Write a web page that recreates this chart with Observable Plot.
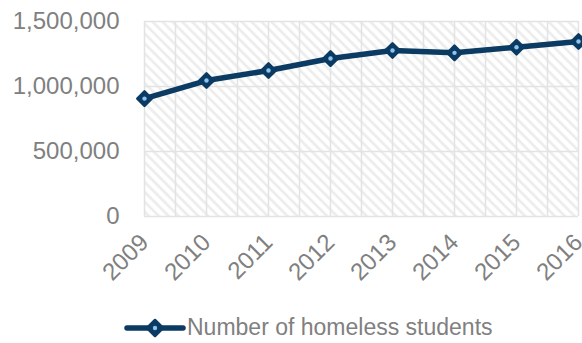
<!DOCTYPE html>
<html><head><meta charset="utf-8">
<script src="https://cdn.jsdelivr.net/npm/d3@7"></script>
<script src="https://cdn.jsdelivr.net/npm/@observablehq/plot@0.6"></script>
<style>
body{margin:0;background:#fff;font-family:"Liberation Sans",Arial,sans-serif;}
#wrap{position:relative;width:582px;height:343px;}
#legend{position:absolute;left:124px;top:314px;display:flex;align-items:center;color:#808080;font-size:23px;}
</style></head>
<body><div id="wrap"><div id="chart"></div><div id="legend"></div></div>
<script>
const years = [2009, 2010, 2011, 2012, 2013, 2014, 2015, 2016];
const students = [907000, 1046000, 1123000, 1215000, 1277000, 1259000, 1302000, 1346000];
const yTicks = [0, 500000, 1000000, 1500000];
const seriesName = "Number of homeless students";

const data = years.map((y, i) => ({year: y, value: students[i]}));
const halfYears = d3.range(years[0], years[years.length - 1] + 0.01, 0.5);
const navy = "#0b3a63";
const dot = "#8cc4f2";
const gridC = "#e3e3e3";

const plot = Plot.plot({
  width: 582, height: 300,
  marginLeft: 144, marginRight: 4, marginTop: 21, marginBottom: 84,
  style: {fontFamily: "Liberation Sans, Arial, sans-serif", fontSize: "24px", color: "#808080", background: "white"},
  x: {domain: [2009, 2016], ticks: years, tickFormat: d => String(d), tickRotate: -45, tickSize: 0, tickPadding: 22, label: null},
  y: {domain: [0, 1500000], ticks: yTicks, tickFormat: d3.format(","), tickSize: 0, tickPadding: 25, label: null},
  marks: [
    Plot.frame({fill: "url(#hatch)", stroke: null}),
    Plot.ruleX(halfYears, {stroke: gridC, strokeWidth: 1.5}),
    Plot.ruleY(yTicks, {stroke: gridC, strokeWidth: 1.5}),
    Plot.lineY(data, {x: "year", y: "value", stroke: navy, strokeWidth: 5.5, strokeLinejoin: "round"}),
    Plot.dot(data, {x: "year", y: "value", symbol: "diamond2", r: 6.5, fill: navy, stroke: navy, strokeWidth: 2.5, strokeLinejoin: "round"}),
    Plot.dot(data, {x: "year", y: "value", r: 2.2, fill: dot, stroke: null})
  ]
});
const ns = "http://www.w3.org/2000/svg";
const defs = document.createElementNS(ns, "defs");
defs.innerHTML = `<pattern id="hatch" patternUnits="userSpaceOnUse" width="7" height="7" patternTransform="rotate(-45)">
<rect width="7" height="7" fill="#ffffff"/><line x1="1.5" y1="0" x2="1.5" y2="7" stroke="#ebebeb" stroke-width="2.5"/></pattern>`;
plot.insertBefore(defs, plot.firstChild);
document.getElementById("chart").appendChild(plot);

const leg = document.getElementById("legend");
leg.innerHTML = `<svg width="62" height="24"><line x1="3" y1="12" x2="59" y2="12" stroke="${navy}" stroke-width="5.5" stroke-linecap="round"/>
<path d="M31,4 L39,12 L31,20 L23,12 Z" fill="${navy}" stroke="${navy}" stroke-width="2.5" stroke-linejoin="round"/>
<circle cx="31" cy="12" r="2.2" fill="${dot}"/></svg><span style="margin-left:1px">${seriesName}</span>`;
</script></body></html>
